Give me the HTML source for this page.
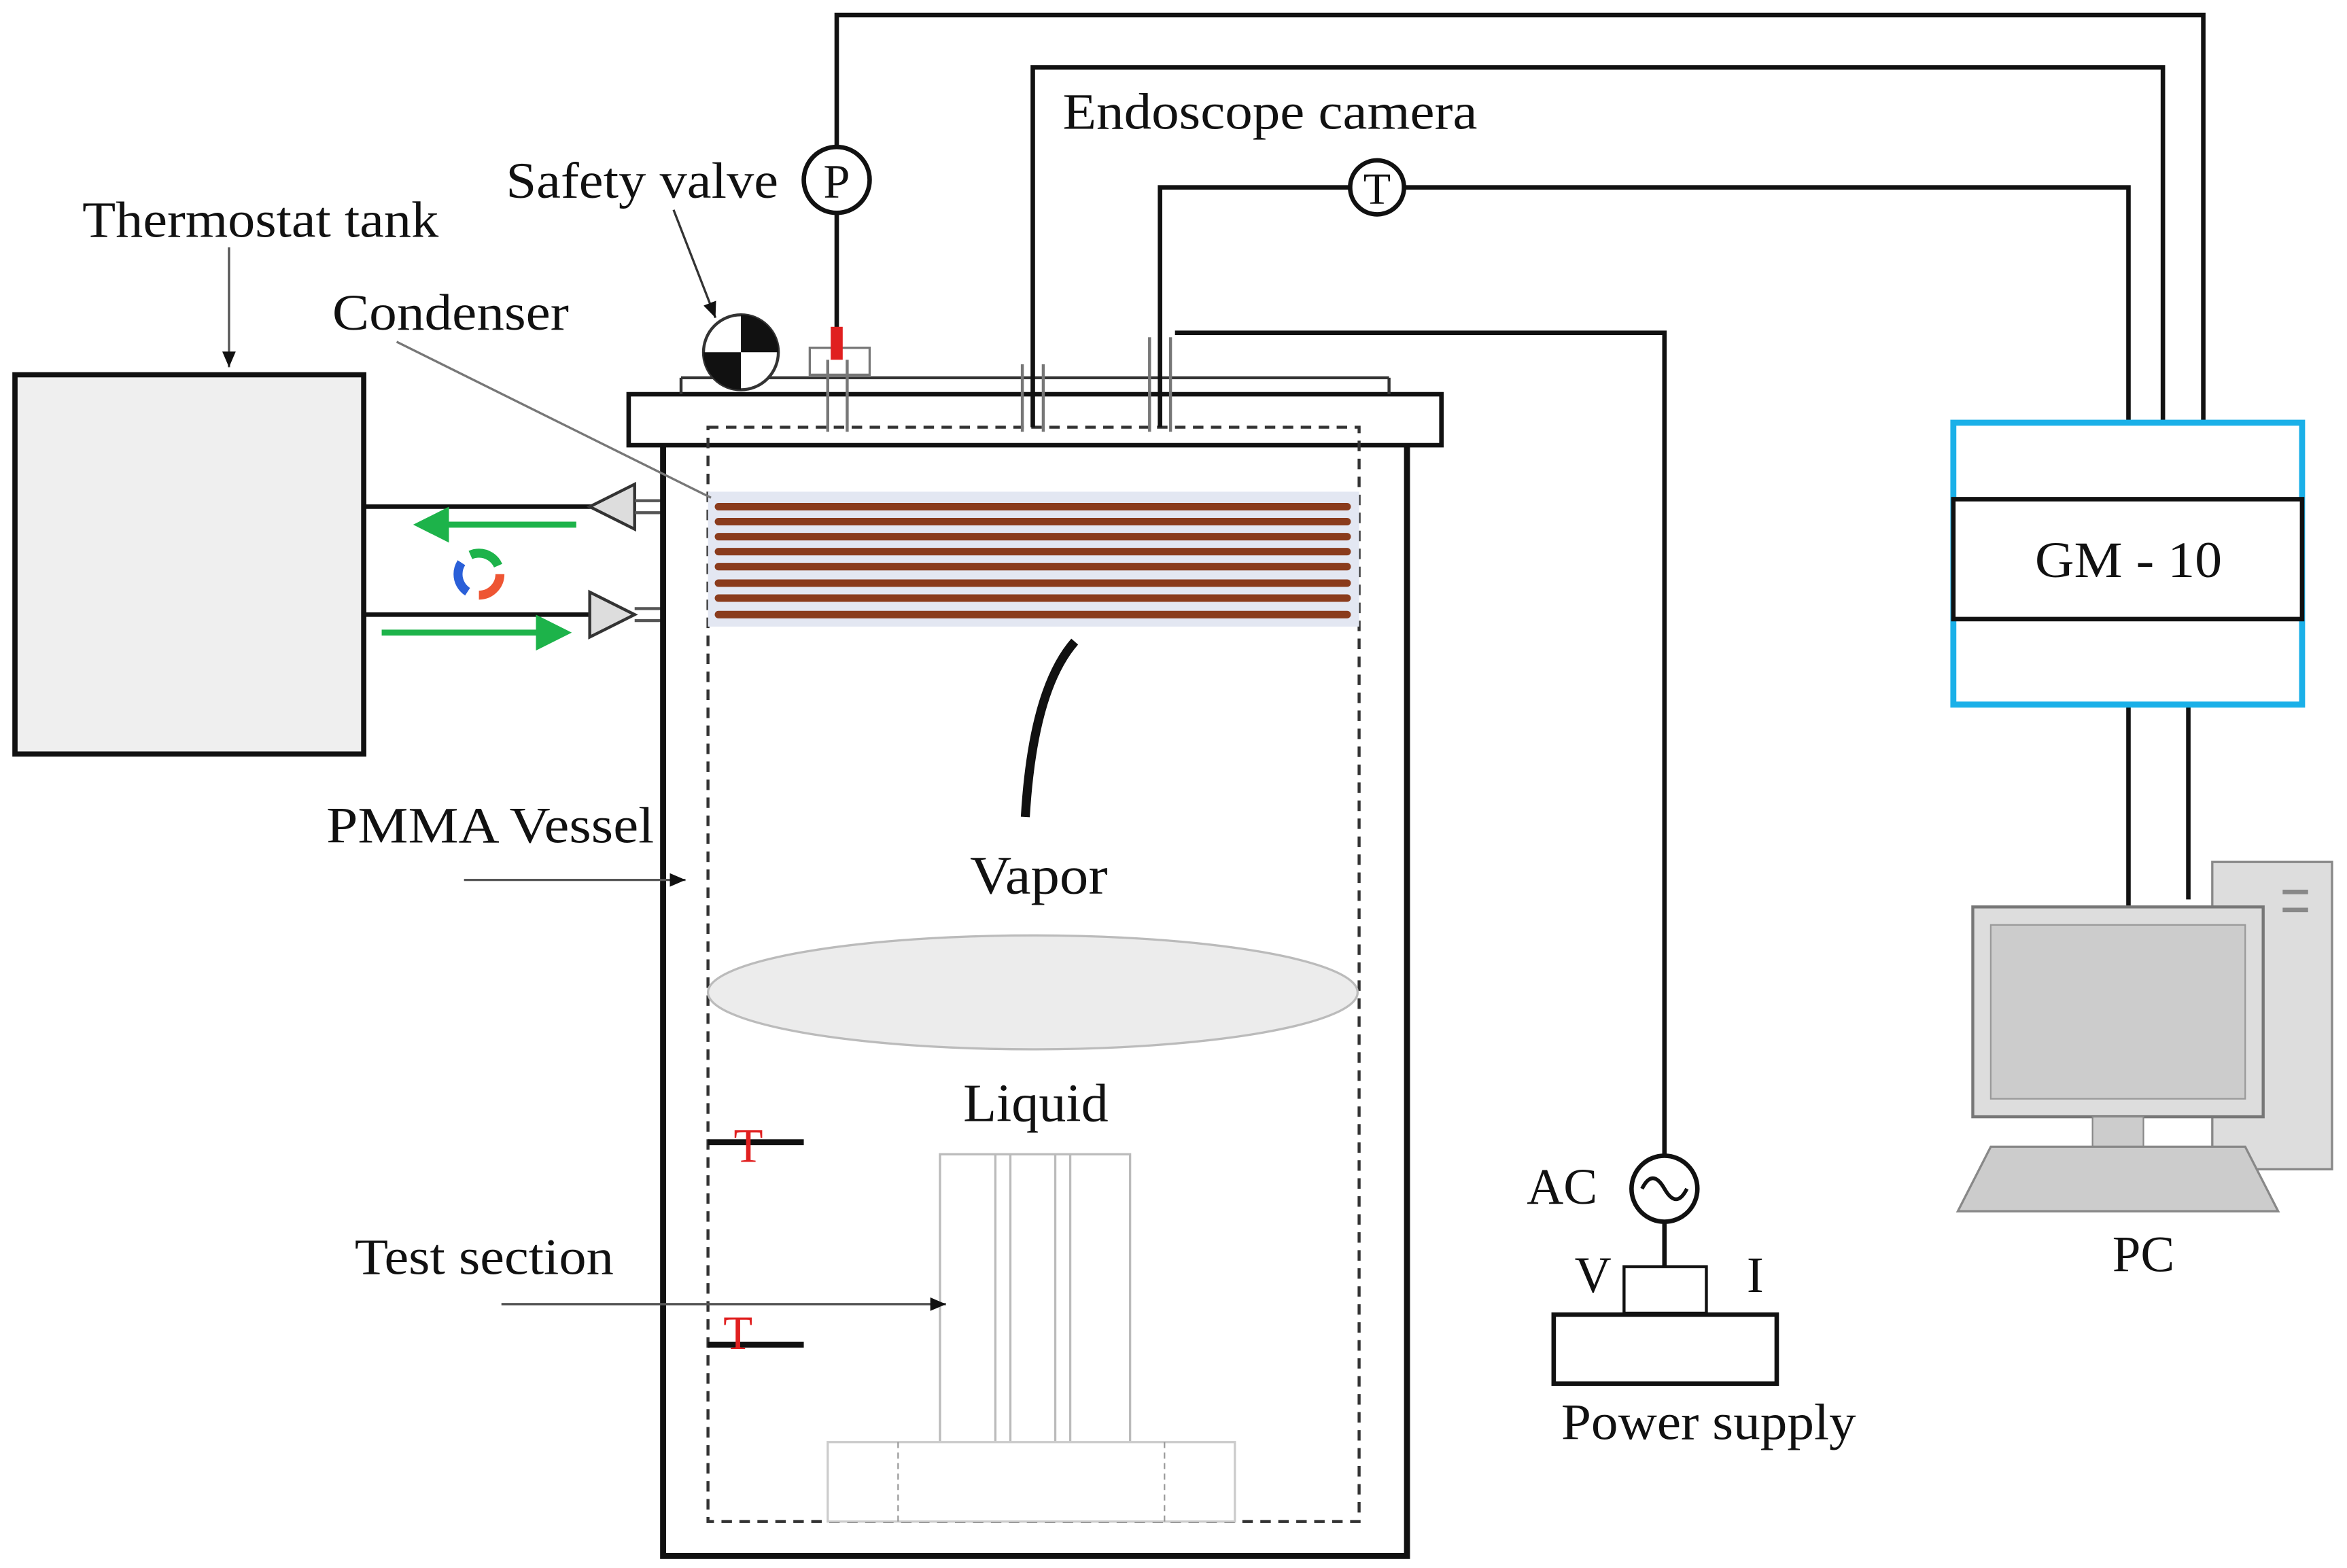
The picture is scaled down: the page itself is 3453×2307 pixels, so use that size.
<!DOCTYPE html>
<html><head><meta charset="utf-8"><style>
html,body{margin:0;padding:0;background:#fff;width:3453px;height:2307px;overflow:hidden}
svg{display:block}
text{font-family:"Liberation Serif",serif;fill:#111}
</style></head><body>
<svg width="3453" height="2307" viewBox="0 0 1568 1046" preserveAspectRatio="none" xmlns="http://www.w3.org/2000/svg">
<defs>
<marker id="ah" markerWidth="8" markerHeight="8" refX="7" refY="4" orient="auto"><path d="M0,1 L7,4 L0,7z" fill="#111"/></marker>
<marker id="gh" markerWidth="6" markerHeight="6" refX="5" refY="3" orient="auto"><path d="M0,0 L6,3 L0,6z" fill="#1db34a"/></marker>
</defs>
<rect width="1568" height="1046" fill="#fff"/>
<rect x="10" y="250" width="233" height="253" fill="#efefef" stroke="#111" stroke-width="3.5"/>
<text x="55" y="158" font-size="34" textLength="238" lengthAdjust="spacingAndGlyphs">Thermostat tank</text>
<line x1="153" y1="165" x2="153" y2="245" stroke="#555" stroke-width="1.5" marker-end="url(#ah)"/>
<line x1="243" y1="338" x2="396" y2="338" stroke="#111" stroke-width="3"/>
<line x1="243" y1="410" x2="396" y2="410" stroke="#111" stroke-width="3"/>
<polygon points="394,338 424,323 424,353" fill="#ddd" stroke="#333" stroke-width="2"/>
<polygon points="424,410 394,395 394,425" fill="#ddd" stroke="#333" stroke-width="2"/>
<line x1="424" y1="334" x2="462" y2="334" stroke="#555" stroke-width="2"/><line x1="424" y1="342" x2="462" y2="342" stroke="#555" stroke-width="2"/>
<line x1="424" y1="406" x2="462" y2="406" stroke="#555" stroke-width="2"/><line x1="424" y1="414" x2="462" y2="414" stroke="#555" stroke-width="2"/>
<line x1="385" y1="350" x2="280" y2="350" stroke="#1db34a" stroke-width="4" marker-end="url(#gh)"/>
<line x1="255" y1="422" x2="378" y2="422" stroke="#1db34a" stroke-width="4" marker-end="url(#gh)"/>
<circle cx="320" cy="383" r="14" fill="none" stroke="#e53" stroke-width="6" stroke-dasharray="22 66"/>
<circle cx="320" cy="383" r="14" fill="none" stroke="#2a5fd8" stroke-width="6" stroke-dasharray="0 30 22 36"/>
<circle cx="320" cy="383" r="14" fill="none" stroke="#1db34a" stroke-width="6" stroke-dasharray="0 60 22 6"/>
<rect x="443" y="295" width="497" height="743" fill="#fff" stroke="#111" stroke-width="4"/>
<rect x="420" y="263" width="543" height="34" fill="#fff" stroke="#111" stroke-width="3"/>
<line x1="455" y1="263" x2="455" y2="252" stroke="#333" stroke-width="2"/><line x1="455" y1="252" x2="928" y2="252" stroke="#333" stroke-width="2"/><line x1="928" y1="252" x2="928" y2="263" stroke="#333" stroke-width="2"/>
<rect x="473" y="285" width="435" height="730" fill="none" stroke="#333" stroke-width="2" stroke-dasharray="7 5"/>
<rect x="473" y="328" width="435" height="90" fill="#e3e7f2"/>
<g stroke="#8a3b1c" stroke-width="5" stroke-linecap="round">
<line x1="480" y1="338" x2="900" y2="338"/><line x1="480" y1="348" x2="900" y2="348"/><line x1="480" y1="358" x2="900" y2="358"/><line x1="480" y1="368" x2="900" y2="368"/><line x1="480" y1="378" x2="900" y2="378"/><line x1="480" y1="389" x2="900" y2="389"/><line x1="480" y1="399" x2="900" y2="399"/><line x1="480" y1="410" x2="900" y2="410"/></g>
<path d="M718,428 Q690,460 685,545" fill="none" stroke="#111" stroke-width="6"/>
<text x="694" y="596" font-size="36" text-anchor="middle" textLength="92" lengthAdjust="spacingAndGlyphs">Vapor</text>
<ellipse cx="690" cy="662" rx="217" ry="38" fill="#ececec" stroke="#bbb" stroke-width="1.5"/>
<text x="692" y="748" font-size="36" text-anchor="middle" textLength="97" lengthAdjust="spacingAndGlyphs">Liquid</text>
<line x1="473" y1="762" x2="537" y2="762" stroke="#111" stroke-width="4"/><text x="500" y="775" font-size="32" style="fill:#e02020" text-anchor="middle">T</text>
<line x1="473" y1="897" x2="537" y2="897" stroke="#111" stroke-width="4"/><text x="493" y="900" font-size="32" style="fill:#e02020" text-anchor="middle">T</text>
<rect x="628" y="770" width="127" height="195" fill="#fff" stroke="#bbb" stroke-width="1.5"/>
<g stroke="#bbb" stroke-width="1.5"><line x1="665" y1="770" x2="665" y2="965"/><line x1="675" y1="770" x2="675" y2="965"/><line x1="705" y1="770" x2="705" y2="965"/><line x1="715" y1="770" x2="715" y2="965"/></g>
<rect x="553" y="962" width="272" height="53" fill="#fff" stroke="#ccc" stroke-width="1.5"/>
<line x1="600" y1="962" x2="600" y2="1015" stroke="#999" stroke-dasharray="4 3"/><line x1="778" y1="962" x2="778" y2="1015" stroke="#999" stroke-dasharray="4 3"/>
<text x="222" y="220" font-size="34" textLength="158" lengthAdjust="spacingAndGlyphs">Condenser</text>
<line x1="265" y1="228" x2="475" y2="332" stroke="#777" stroke-width="1.5"/>
<text x="338" y="132" font-size="34" textLength="182" lengthAdjust="spacingAndGlyphs">Safety valve</text>
<line x1="450" y1="140" x2="478" y2="212" stroke="#333" stroke-width="1.5" marker-end="url(#ah)"/>
<circle cx="495" cy="235" r="25" fill="#fff" stroke="#333" stroke-width="2"/>
<path d="M495,235 L495,210 A25,25 0 0 1 520,235z" fill="#111"/><path d="M495,235 L495,260 A25,25 0 0 1 470,235z" fill="#111"/>
<text x="218" y="562" font-size="34" textLength="219" lengthAdjust="spacingAndGlyphs">PMMA Vessel</text>
<line x1="310" y1="587" x2="458" y2="587" stroke="#555" stroke-width="1.5" marker-end="url(#ah)"/>
<text x="237" y="850" font-size="34" textLength="173" lengthAdjust="spacingAndGlyphs">Test section</text>
<line x1="335" y1="870" x2="632" y2="870" stroke="#555" stroke-width="1.5" marker-end="url(#ah)"/>
<g fill="none" stroke="#111" stroke-width="3">
<polyline points="559,98 559,10 1472,10 1472,282"/>
<polyline points="559,142 559,225"/>
<polyline points="690,285 690,45 1445,45 1445,282"/>
<polyline points="775,285 775,125 902,125"/><polyline points="938,125 1422,125 1422,282"/>
<polyline points="785,222 1112,222 1112,771"/>
<polyline points="1112,815 1112,845"/>
<polyline points="1422,470 1422,605"/><polyline points="1462,470 1462,600"/>
</g>
<rect x="541" y="232" width="40" height="18" fill="#fff" stroke="#777" stroke-width="1.5"/>
<line x1="553" y1="240" x2="553" y2="288" stroke="#777" stroke-width="2"/><line x1="566" y1="240" x2="566" y2="288" stroke="#777" stroke-width="2"/>
<rect x="555" y="218" width="8" height="22" fill="#e02020"/>
<g stroke="#777" stroke-width="2"><line x1="683" y1="243" x2="683" y2="288"/><line x1="697" y1="243" x2="697" y2="288"/><line x1="768" y1="225" x2="768" y2="288"/><line x1="782" y1="225" x2="782" y2="288"/></g>
<circle cx="559" cy="120" r="22" fill="#fff" stroke="#111" stroke-width="3"/><text x="559" y="132" font-size="32" text-anchor="middle">P</text>
<circle cx="920" cy="125" r="18" fill="#fff" stroke="#111" stroke-width="3"/><text x="920" y="136" font-size="30" text-anchor="middle">T</text>
<text x="710" y="86" font-size="34" textLength="277" lengthAdjust="spacingAndGlyphs">Endoscope camera</text>
<circle cx="1112" cy="793" r="22" fill="#fff" stroke="#111" stroke-width="3"/>
<path d="M1097,793 q7,-14 15,0 q8,14 15,0" fill="none" stroke="#111" stroke-width="2.5"/>
<text x="1020" y="803" font-size="34">AC</text>
<text x="1052" y="862" font-size="34">V</text><text x="1167" y="862" font-size="34">I</text>
<rect x="1085" y="845" width="55" height="31" fill="#fff" stroke="#111" stroke-width="2"/>
<rect x="1038" y="877" width="149" height="46" fill="#fff" stroke="#111" stroke-width="3"/>
<text x="1043" y="960" font-size="34" textLength="197" lengthAdjust="spacingAndGlyphs">Power supply</text>
<rect x="1305" y="282" width="233" height="188" fill="#fff" stroke="#1ab0e8" stroke-width="4"/>
<rect x="1305" y="333" width="233" height="80" fill="#fff" stroke="#111" stroke-width="3"/>
<text x="1422" y="385" font-size="34" text-anchor="middle" textLength="125" lengthAdjust="spacingAndGlyphs">GM - 10</text>
<rect x="1478" y="575" width="80" height="205" fill="#ddd" stroke="#888" stroke-width="1.5"/>
<line x1="1525" y1="595" x2="1542" y2="595" stroke="#888" stroke-width="3"/><line x1="1525" y1="607" x2="1542" y2="607" stroke="#888" stroke-width="3"/>
<rect x="1318" y="605" width="194" height="140" fill="#ddd" stroke="#777" stroke-width="2"/>
<rect x="1330" y="617" width="170" height="116" fill="#ccc" stroke="#999"/>
<rect x="1398" y="745" width="34" height="20" fill="#ccc" stroke="#888"/>
<polygon points="1330,765 1500,765 1522,808 1308,808" fill="#ccc" stroke="#888" stroke-width="1.5"/>
<text x="1432" y="848" font-size="34" text-anchor="middle">PC</text>
</svg>
</body></html>
